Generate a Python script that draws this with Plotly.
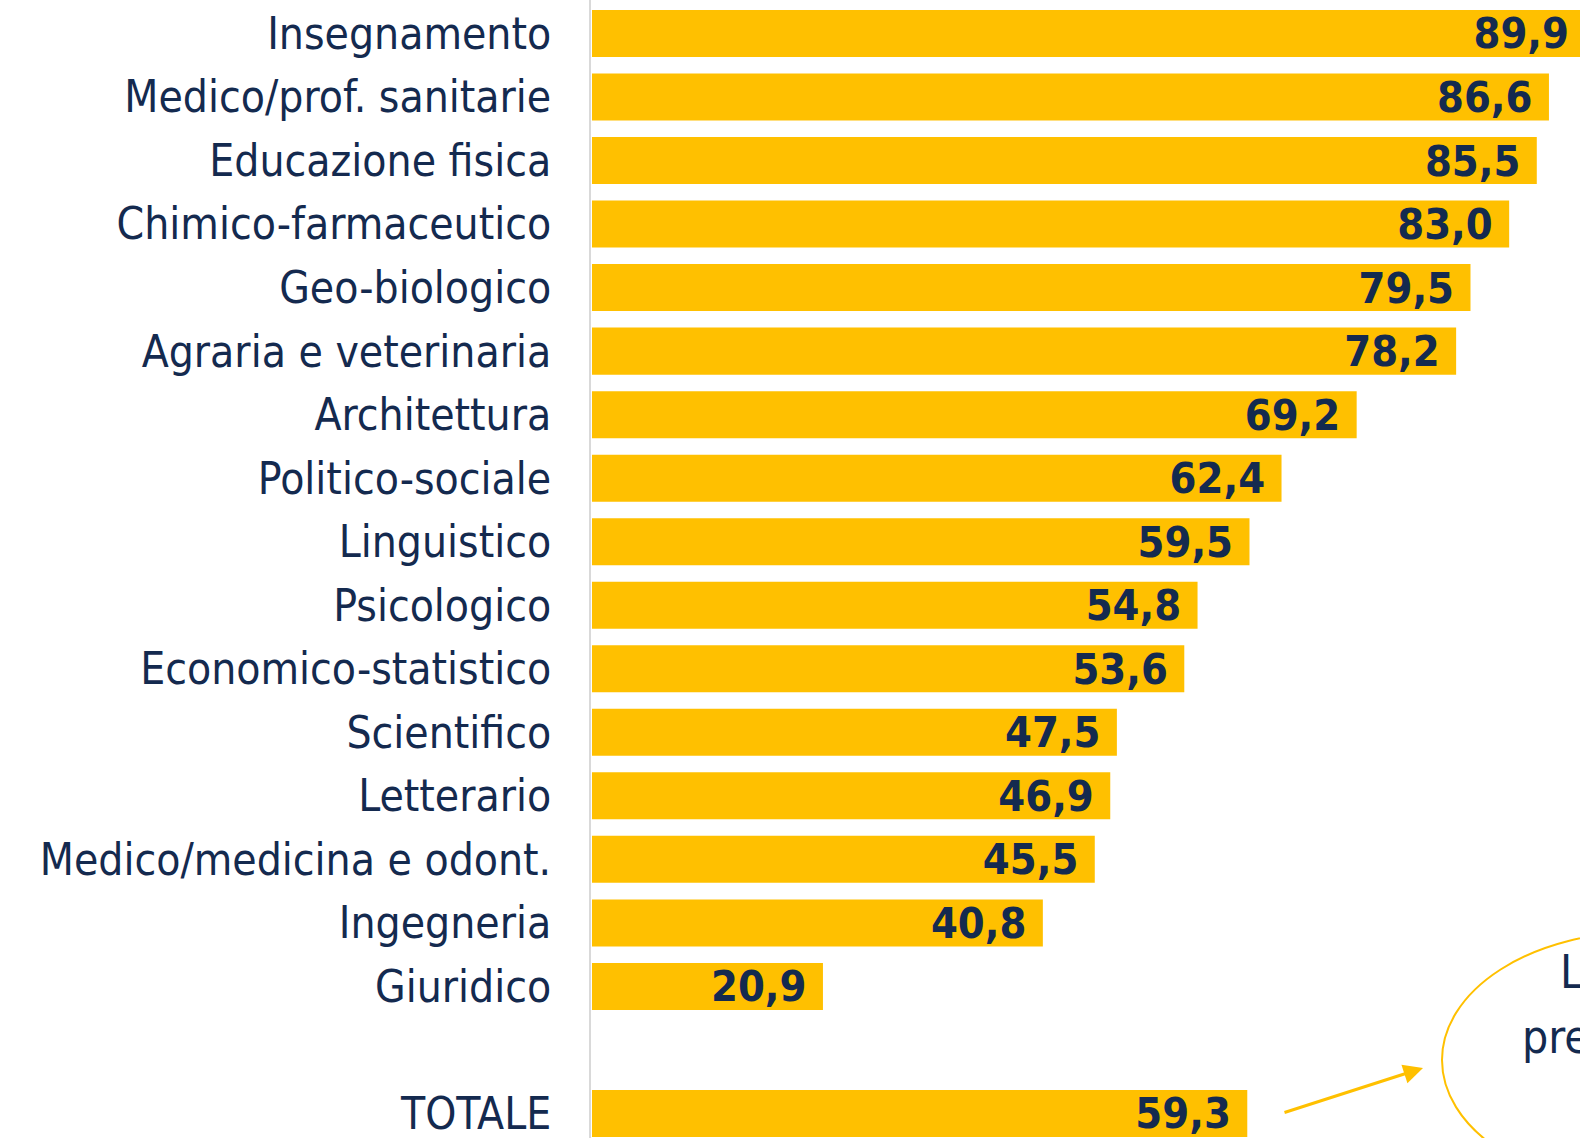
import plotly.graph_objects as go

categories = [
    "Insegnamento", "Medico/prof. sanitarie", "Educazione fisica", "Chimico-farmaceutico",
    "Geo-biologico", "Agraria e veterinaria", "Architettura", "Politico-sociale",
    "Linguistico", "Psicologico", "Economico-statistico", "Scientifico", "Letterario",
    "Medico/medicina e odont.", "Ingegneria", "Giuridico",
]
values = [89.9, 86.6, 85.5, 83.0, 79.5, 78.2, 69.2, 62.4, 59.5, 54.8, 53.6, 47.5, 46.9, 45.5, 40.8, 20.9]
total_label = "TOTALE"
total_value = 59.3
ellipse_lines = ["L", "pre"]

NAVY = "#142A4F"
GOLD = "#FFC000"
FONT = "DejaVu Sans Condensed, DejaVu Sans, sans-serif"

labels = categories + [total_label]
vals = values + [total_value]
positions = list(range(len(categories))) + [len(categories) + 1]
texts = [f"{v:.1f}".replace(".", ",") + "\u00a0" for v in vals]

fig = go.Figure(go.Bar(
    x=vals, y=positions, orientation="h",
    marker=dict(color=GOLD, line=dict(width=0)),
    text=texts, textposition="inside", insidetextanchor="end", textangle=0,
    constraintext="none",
    insidetextfont=dict(family=FONT, size=43, color=NAVY, weight="bold"),
    hoverinfo="skip",
))

W, H = 1580, 1138
L = 591
def px(xp):
    return (xp - L) / (W - L)
def py(yp):
    return 1 - yp / H

fig.update_layout(
    width=W, height=H,
    margin=dict(l=L, r=0, t=0, b=0),
    paper_bgcolor="white", plot_bgcolor="white",
    bargap=0.26, showlegend=False,
    xaxis=dict(visible=False, range=[-0.09, 89.41], fixedrange=True),
    yaxis=dict(
        range=[17.386, -0.527], tickvals=positions, ticktext=labels,
        showgrid=False, zeroline=False, showline=True, linecolor="#D9D9D9", linewidth=2,
        ticks="", ticklabelstandoff=29, ticklabeloverflow="allow", automargin=False,
        tickfont=dict(family=FONT, size=44, color=NAVY), fixedrange=True,
    ),
    shapes=[dict(
        type="circle", xref="paper", yref="paper",
        x0=px(1442), x1=px(1842), y0=py(1188), y1=py(932),
        line=dict(color=GOLD, width=2), fillcolor="rgba(0,0,0,0)", layer="above",
    )],
    annotations=[
        dict(xref="paper", yref="paper", x=px(1423), y=py(1068), ax=-140, ay=45,
             text="", showarrow=True, arrowhead=2, arrowsize=1.3, arrowwidth=3,
             arrowcolor=GOLD, standoff=0, startstandoff=0),
        dict(xref="paper", yref="paper", x=px(1558), y=py(972), text=ellipse_lines[0],
             showarrow=False, xanchor="left", yanchor="middle",
             font=dict(family=FONT, size=46, color=NAVY)),
        dict(xref="paper", yref="paper", x=px(1520), y=py(1037), text=ellipse_lines[1],
             showarrow=False, xanchor="left", yanchor="middle",
             font=dict(family=FONT, size=46, color=NAVY)),
    ],
)

fig.write_html(
    "out.html",
    config={"displayModeBar": False, "staticPlot": True},
    post_script="document.body.style.margin='0';document.body.style.overflow='hidden';",
)
